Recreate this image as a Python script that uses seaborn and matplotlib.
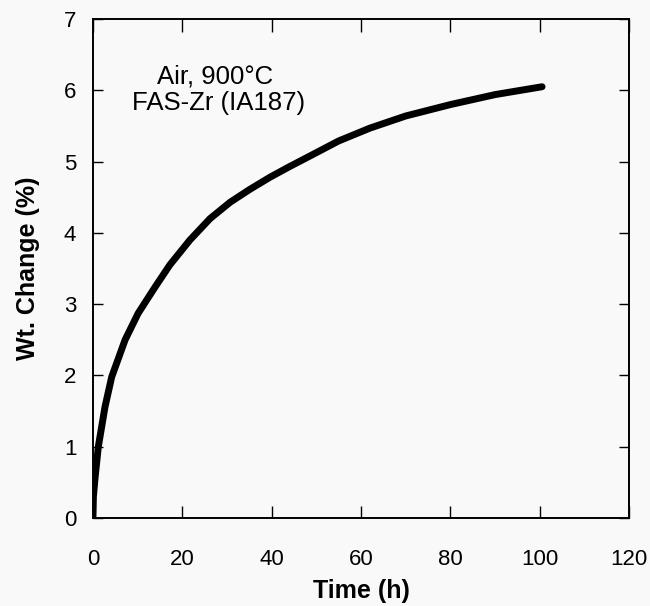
import numpy as np
import pandas as pd
import matplotlib
matplotlib.use("Agg")
import matplotlib.pyplot as plt
import seaborn as sns

sns.set_theme(style="ticks")
plt.rcParams['font.family'] = ['Liberation Sans', 'DejaVu Sans']
plt.rcParams['text.color'] = 'black'
plt.rcParams['axes.labelcolor'] = 'black'

# values
time_h = [0, 0.1, 0.45, 1.2, 2.7, 4.2, 7.2, 10.1, 13.9, 17.2, 21.7, 26.2,
          30.7, 35.1, 39.6, 43.7, 48.6, 55.0, 62.0, 70.0, 80.0, 90.0, 100.5]
wt_change = [0, 0.3, 0.55, 1.0, 1.56, 1.98, 2.50, 2.87, 3.24, 3.55, 3.90, 4.20,
             4.43, 4.61, 4.78, 4.92, 5.08, 5.29, 5.47, 5.64, 5.80, 5.94, 6.05]

x_ticks = [0, 20, 40, 60, 80, 100, 120]
y_ticks = [0, 1, 2, 3, 4, 5, 6, 7]

df = pd.DataFrame({'Time': time_h, 'Wt': wt_change})

bg = '#f9f9f9'
fig = plt.figure(figsize=(6.5, 6.06), dpi=100, facecolor=bg)
ax = fig.add_axes([0.143, 0.1452, 0.825, 0.8234])
ax.set_facecolor(bg)

sns.lineplot(data=df, x='Time', y='Wt', ax=ax, color='black', lw=5,
             sort=False, solid_capstyle='round', solid_joinstyle='round')

ax.set_xlim(0, 120)
ax.set_ylim(0, 7)
ax.set_xticks(x_ticks)
ax.set_yticks(y_ticks)
ax.set_xticklabels([str(t) for t in x_ticks])
ax.set_yticklabels([str(t) for t in y_ticks])

ax.tick_params(axis='x', direction='in', length=9, width=1, top=True,
               labelsize=16, pad=22, colors='black')
ax.tick_params(axis='y', direction='in', length=7.5, width=1, right=True,
               labelsize=16, pad=12, colors='black')
for s in ax.spines.values():
    s.set_linewidth(1.4)
    s.set_color('black')

ax.set_xlabel('Time (h)', fontsize=18, fontweight='bold', labelpad=7)
ax.set_ylabel('Wt. Change (%)', fontsize=18, fontweight='bold', labelpad=17)

ax.text(27.3, 6.09, 'Air, 900°C', fontsize=18.5, ha='center', va='baseline',
        color='black')
ax.text(28.0, 5.72, 'FAS-Zr (IA187)', fontsize=18.5, ha='center', va='baseline',
        color='black')

fig.savefig('out.png', dpi=100, facecolor=bg)
